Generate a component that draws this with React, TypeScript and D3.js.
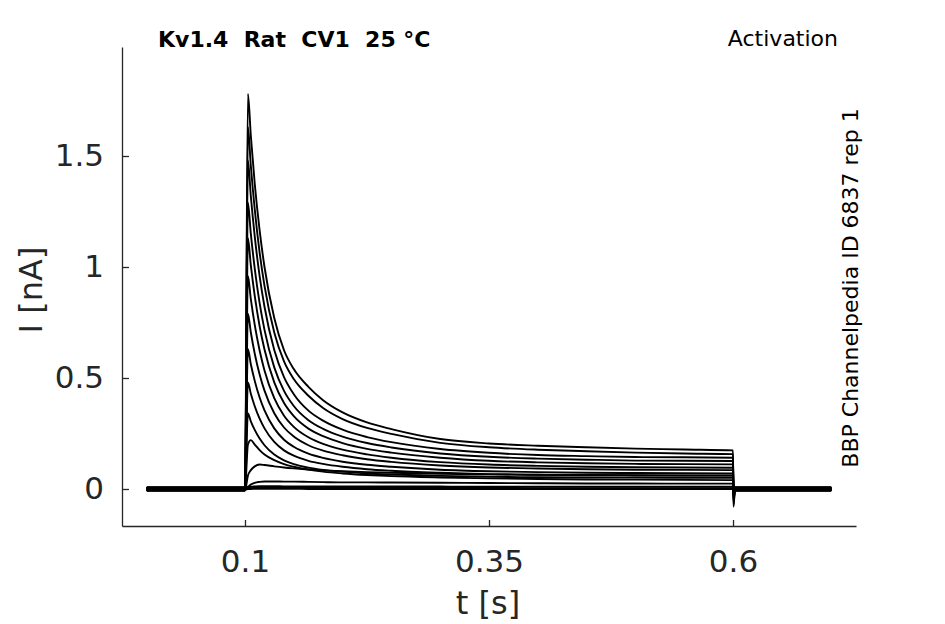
import { useRef, useEffect } from "react";
import * as d3 from "d3";

// sample times (s) of the decay phase, shared by every sweep
const decayTimes = [0.103, 0.106, 0.11, 0.115, 0.12, 0.13, 0.14, 0.15, 0.165, 0.18, 0.2, 0.225, 0.25, 0.3, 0.35, 0.4, 0.45, 0.5, 0.55, 0.6];

// current (nA) of each sweep at decayTimes
const sweepCurrents: number[][] = [
    [1.78, 1.59, 1.375, 1.165, 1.0, 0.77, 0.625, 0.54, 0.46, 0.4, 0.345, 0.3, 0.27, 0.225, 0.205, 0.195, 0.188, 0.182, 0.178, 0.174],
    [1.63, 1.455, 1.26, 1.065, 0.915, 0.705, 0.575, 0.495, 0.42, 0.365, 0.315, 0.275, 0.248, 0.208, 0.188, 0.177, 0.17, 0.164, 0.16, 0.157],
    [1.48, 1.318, 1.138, 0.959, 0.821, 0.626, 0.504, 0.427, 0.353, 0.308, 0.267, 0.234, 0.211, 0.18, 0.163, 0.153, 0.148, 0.144, 0.143, 0.141],
    [1.29, 1.149, 0.993, 0.837, 0.717, 0.548, 0.442, 0.374, 0.31, 0.271, 0.236, 0.207, 0.187, 0.16, 0.145, 0.137, 0.132, 0.128, 0.127, 0.126],
    [1.13, 1.007, 0.87, 0.733, 0.628, 0.48, 0.387, 0.328, 0.272, 0.238, 0.207, 0.181, 0.164, 0.141, 0.127, 0.12, 0.116, 0.113, 0.112, 0.111],
    [0.96, 0.855, 0.739, 0.624, 0.534, 0.409, 0.33, 0.28, 0.233, 0.203, 0.177, 0.156, 0.141, 0.121, 0.11, 0.104, 0.1, 0.098, 0.097, 0.096],
    [0.79, 0.705, 0.61, 0.516, 0.443, 0.341, 0.277, 0.236, 0.197, 0.173, 0.152, 0.134, 0.122, 0.106, 0.097, 0.092, 0.089, 0.087, 0.086, 0.085],
    [0.63, 0.562, 0.487, 0.412, 0.354, 0.273, 0.222, 0.19, 0.159, 0.14, 0.123, 0.109, 0.1, 0.087, 0.08, 0.076, 0.073, 0.072, 0.071, 0.07],
    [0.48, 0.429, 0.373, 0.317, 0.273, 0.212, 0.174, 0.15, 0.127, 0.113, 0.1, 0.089, 0.082, 0.073, 0.067, 0.064, 0.063, 0.062, 0.061, 0.06],
    [0.34, 0.305, 0.266, 0.227, 0.197, 0.155, 0.129, 0.112, 0.096, 0.086, 0.078, 0.07, 0.065, 0.059, 0.055, 0.053, 0.052, 0.051, 0.05, 0.05],
    [0.2, 0.22, 0.2, 0.175, 0.155, 0.13, 0.112, 0.1, 0.087, 0.078, 0.07, 0.063, 0.058, 0.052, 0.048, 0.045, 0.043, 0.042, 0.041, 0.04],
    [0.06, 0.085, 0.102, 0.11, 0.108, 0.102, 0.097, 0.093, 0.088, 0.084, 0.08, 0.076, 0.073, 0.069, 0.066, 0.064, 0.062, 0.061, 0.06, 0.06],
    [0.01, 0.02, 0.028, 0.032, 0.034, 0.034, 0.033, 0.033, 0.032, 0.031, 0.03, 0.03, 0.029, 0.028, 0.027, 0.026, 0.025, 0.025, 0.024, 0.024],
    [0.006, 0.01, 0.012, 0.013, 0.013, 0.013, 0.012, 0.012, 0.012, 0.012, 0.011, 0.011, 0.011, 0.011, 0.01, 0.01, 0.01, 0.01, 0.01, 0.01],
    [0.002, 0.004, 0.005, 0.006, 0.006, 0.006, 0.006, 0.005, 0.005, 0.005, 0.005, 0.005, 0.005, 0.005, 0.005, 0.004, 0.004, 0.004, 0.004, 0.004],
    [0, 0, 0.001, 0.001, 0.001, 0.001, 0.001, 0.001, 0, 0, 0, 0, 0, 0, 0, 0, 0, 0, 0, 0],
];

// holding current of each sweep (nA) before and after the step
const baselineCurrents = [0.004, -0.003, 0.007, -0.006, 0.002, -0.008, 0.005, -0.002, 0.008, -0.004, 0.001, -0.007, 0.003, -0.001, 0.006, -0.005];
// brief tail current right after the step ends
const tailCurrents = [-0.08, -0.07, -0.06, -0.05, -0.045, -0.04, -0.035, -0.03, -0.025, -0.02, -0.015, -0.01, -0.006, -0.004, -0.002, 0];

const sweepStart = 0;
const stepOn = 0.1;
const tailTime = 0.6005;
const recoveryTime = 0.602;
const sweepEnd = 0.7;

const xTicks = [0.1, 0.35, 0.6];
const xTickLabels = ["0.1", "0.35", "0.6"];
const yTicks = [0, 0.5, 1, 1.5];
const yTickLabels = ["0", "0.5", "1", "1.5"];

const titleText = "Kv1.4  Rat  CV1  25 °C";
const protocolText = "Activation";
const sourceText = "BBP Channelpedia ID 6837 rep 1";

const W = 945;
const H = 624;
const axisColor = "#262626";
const font = "DejaVu Sans, sans-serif";

export default function App() {
    const svgRef = useRef<SVGSVGElement>(null);

    useEffect(() => {
        const svg = d3.select(svgRef.current as SVGSVGElement);
        svg.selectAll("*").remove();

        const x = d3.scaleLinear().domain([-0.026, 0.726]).range([122, 856]);
        const y = d3.scaleLinear().domain([-0.1667, 1.991]).range([526, 47]);

        // sweeps
        const line = d3.line<[number, number]>()
            .x(d => x(d[0]))
            .y(d => y(d[1]))
            .curve(d3.curveMonotoneX);

        const sweeps = sweepCurrents.map((vals, i) => {
            const b = baselineCurrents[i];
            const pts: [number, number][] = [[sweepStart, b], [stepOn, b]];
            decayTimes.forEach((t, j) => pts.push([t, vals[j]]));
            pts.push([tailTime, tailCurrents[i]]);
            pts.push([recoveryTime, b]);
            pts.push([sweepEnd, b]);
            return pts;
        });

        svg.append("g")
            .attr("fill", "none")
            .attr("stroke", "#000")
            .attr("stroke-width", 1.9)
            .attr("stroke-linejoin", "round")
            .attr("stroke-linecap", "round")
            .selectAll("path")
            .data(sweeps.slice().reverse())
            .join("path")
            .attr("d", d => line(d));

        // axes (MATLAB style, ticks inside)
        const gx = svg.append("g")
            .attr("transform", `translate(0,${y.range()[0]})`)
            .call(d3.axisBottom(x).tickValues(xTicks).tickSize(-6).tickSizeOuter(0)
                .tickFormat((_, i) => xTickLabels[i]));
        const gy = svg.append("g")
            .attr("transform", `translate(${x.range()[0]},0)`)
            .call(d3.axisLeft(y).tickValues(yTicks).tickSize(-7).tickSizeOuter(0)
                .tickFormat((_, i) => yTickLabels[i]).tickPadding(18));

        [gx, gy].forEach(g => {
            g.select(".domain").attr("stroke", axisColor).attr("stroke-width", 1.3);
            g.selectAll(".tick line").attr("stroke", axisColor).attr("stroke-width", 1.3);
            g.selectAll(".tick text")
                .attr("fill", axisColor)
                .style("font-family", font)
                .style("font-size", "31px");
        });
        gx.selectAll(".tick text").attr("dy", null).attr("y", 46);

        // labels
        svg.append("text")
            .attr("x", 488).attr("y", 614)
            .attr("text-anchor", "middle")
            .attr("fill", axisColor)
            .style("font-family", font).style("font-size", "32px")
            .text("t [s]");

        svg.append("text")
            .attr("transform", "translate(42,290) rotate(-90)")
            .attr("text-anchor", "middle")
            .attr("fill", axisColor)
            .style("font-family", font).style("font-size", "32px")
            .text("I [nA]");

        svg.append("text")
            .attr("x", 158).attr("y", 47)
            .attr("fill", "#000")
            .style("font-family", font).style("font-size", "22px").style("font-weight", "bold")
            .style("white-space", "pre")
            .text(titleText);

        svg.append("text")
            .attr("x", 838).attr("y", 46)
            .attr("text-anchor", "end")
            .attr("fill", "#000")
            .style("font-family", font).style("font-size", "22px")
            .text(protocolText);

        svg.append("text")
            .attr("transform", "translate(858,288) rotate(-90)")
            .attr("text-anchor", "middle")
            .attr("fill", "#000")
            .style("font-family", font).style("font-size", "22px")
            .text(sourceText);
    }, []);

    return (
        <svg
            ref={svgRef}
            width={W}
            height={H}
            style={{ position: "absolute", left: 0, top: 0, background: "#fff", display: "block" }}
        />
    );
}
